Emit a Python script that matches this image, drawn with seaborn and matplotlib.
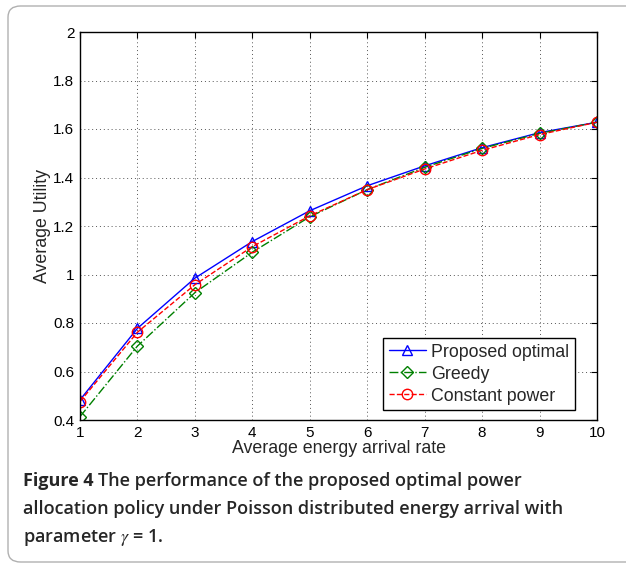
import numpy as np
import pandas as pd
import seaborn as sns
import matplotlib.pyplot as plt
from matplotlib.patches import FancyBboxPatch

rate = [1, 2, 3, 4, 5, 6, 7, 8, 9, 10]
proposed = [0.483, 0.778, 0.985, 1.136, 1.263, 1.366, 1.448, 1.523, 1.585, 1.628]
greedy = [0.414, 0.705, 0.925, 1.092, 1.238, 1.350, 1.442, 1.520, 1.582, 1.628]
constant = [0.476, 0.762, 0.958, 1.115, 1.242, 1.350, 1.435, 1.512, 1.577, 1.628]

yticks = [0.4, 0.6, 0.8, 1, 1.2, 1.4, 1.6, 1.8, 2]
ytick_labels = ["0.4", "0.6", "0.8", "1", "1.2", "1.4", "1.6", "1.8", "2"]

df = pd.DataFrame({"rate": rate, "Proposed optimal": proposed,
                   "Greedy": greedy, "Constant power": constant})

sns.set_style("white")
plt.rcParams["font.family"] = ["Liberation Sans", "DejaVu Sans"]
plt.rcParams["mathtext.fontset"] = "stix"

fig = plt.figure(figsize=(6.26, 5.65), dpi=100)
ax = fig.add_axes([80 / 626, 145 / 565, 517 / 626, 388 / 565])

# rounded frame around the figure + caption
fig.patches.append(FancyBboxPatch((8 / 626, 3 / 565), 640 / 626, 556 / 565,
                                  boxstyle="round,pad=0,rounding_size=0.02",
                                  transform=fig.transFigure, fill=False,
                                  edgecolor="#b0b0b0", linewidth=1.0))

styles = [("Proposed optimal", "blue", "-", "^"),
          ("Greedy", "green", "-.", "D"),
          ("Constant power", "red", "--", "o")]
for name, col, ls, mk in styles:
    ms = 6 if mk == "D" else 7.5
    sns.lineplot(data=df, x="rate", y=name, ax=ax, color=col, linestyle=ls,
                 linewidth=1.0, marker=mk, markersize=ms, markerfacecolor="none",
                 markeredgecolor=col, markeredgewidth=1.0, label=name)

ax.set_xlim(1, 10)
ax.set_ylim(0.4, 2)
ax.set_xticks(rate)
ax.set_yticks(yticks)
ax.set_yticklabels(ytick_labels)
ax.tick_params(direction="in", top=True, right=True, length=4, width=0.8,
               labelsize=11, colors="black", pad=4)
ax.grid(True, linestyle=(0, (1, 3)), color="#555555", linewidth=0.7)
for s in ax.spines.values():
    s.set_color("black")
    s.set_linewidth(1.0)

ax.set_xlabel("Average energy arrival rate", fontsize=12.8, labelpad=0)
ax.set_ylabel("Average Utility", fontsize=12.8, labelpad=2)

leg = ax.legend(loc="lower right", bbox_to_anchor=(0.957, 0.026), fontsize=12.8,
                frameon=True, fancybox=False, edgecolor="black", framealpha=1,
                handlelength=2.1, borderpad=0.3, labelspacing=0.28,
                handletextpad=0.3, borderaxespad=0)
leg.get_frame().set_linewidth(1.0)

# caption
cap_font = ["Open Sans", "DejaVu Sans"]
fsize = 13
renderer = fig.canvas.get_renderer()
t = fig.text(23 / 626, 1 - 486 / 565, "Figure 4 ", fontsize=fsize, weight="bold",
             family=cap_font, va="baseline")
bb = t.get_window_extent(renderer)
fig.text(bb.x1 / fig.bbox.width, 1 - 486 / 565,
         "The performance of the proposed optimal power",
         fontsize=fsize, weight="semibold", family=cap_font, va="baseline")
fig.text(23 / 626, 1 - 514 / 565,
         "allocation policy under Poisson distributed energy arrival with",
         fontsize=fsize, weight="semibold", family=cap_font, va="baseline")
fig.text(23 / 626, 1 - 542 / 565, "parameter $\\gamma$ = 1.",
         fontsize=fsize, weight="semibold", family=cap_font, va="baseline")

fig.savefig("out.png", dpi=100)
